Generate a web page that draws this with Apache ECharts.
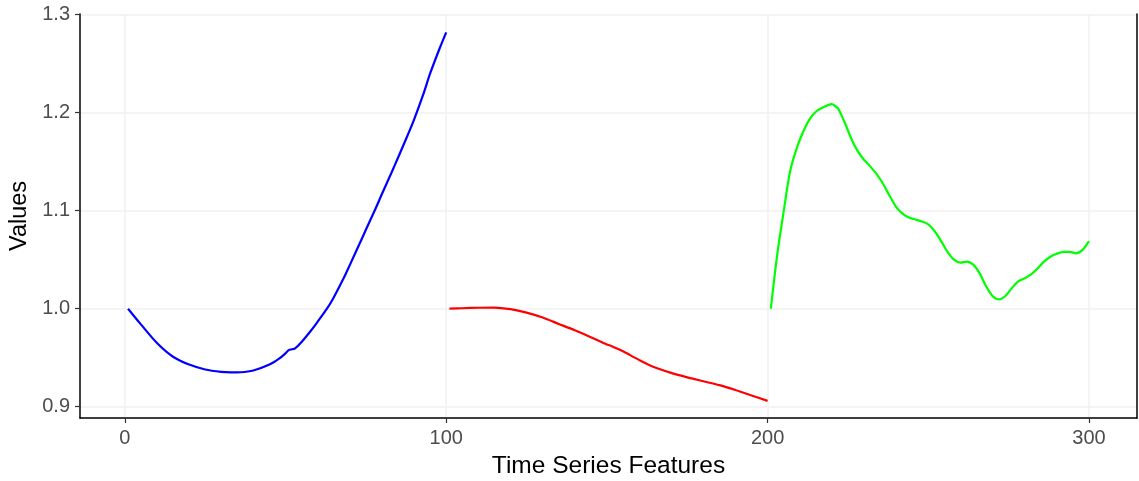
<!DOCTYPE html>
<html>
<head>
<meta charset="utf-8">
<script src="https://cdn.jsdelivr.net/npm/echarts@6/dist/echarts.min.js"></script>
<style>
html,body{margin:0;padding:0;background:#fff;}
#chart{width:1139px;height:481px;}
</style>
</head>
<body>
<div id="chart"></div>
<script>
// ---- data ----
const xTicks = [0, 100, 200, 300];
const yTicks = [0.9, 1.0, 1.1, 1.2, 1.3];

const blueX = [1, 5, 10, 15, 20, 25, 30, 33, 36, 40, 45, 48, 50, 51, 52, 53, 55, 58, 60, 63, 65, 68, 70, 73, 75, 78, 80, 83, 85, 88, 90, 93, 95, 98, 100];
const blueY = [1.000, 0.984, 0.965, 0.951, 0.943, 0.938, 0.9355, 0.935, 0.9352, 0.937, 0.943, 0.949, 0.9545, 0.9577, 0.9586, 0.9596, 0.966, 0.978, 0.9868, 1.0005, 1.0115, 1.0305, 1.0445, 1.066, 1.0805, 1.102, 1.117, 1.139, 1.154, 1.177, 1.193, 1.220, 1.240, 1.266, 1.282];

const redX = [101, 105, 110, 115, 120, 125, 130, 135, 140, 145, 150, 151, 152, 155, 160, 165, 170, 175, 180, 185, 190, 195, 200];
const redY = [1.000, 1.0005, 1.001, 1.0012, 0.9995, 0.996, 0.991, 0.9845, 0.978, 0.971, 0.9635, 0.9625, 0.961, 0.9565, 0.9478, 0.940, 0.9345, 0.930, 0.926, 0.922, 0.917, 0.9115, 0.906];

const greenX = [201, 203, 205, 207, 209, 211, 213, 215, 217, 219, 220, 221, 222, 224, 226, 228, 230, 232, 234, 236, 238, 240, 242, 244, 246, 248, 250, 252, 254, 256, 258, 260, 262, 264, 266, 268, 270, 272, 274, 276, 278, 280, 282, 284, 286, 288, 290, 292, 294, 296, 298, 300];
const greenY = [1.000, 1.055, 1.099, 1.140, 1.163, 1.180, 1.193, 1.201, 1.205, 1.208, 1.2088, 1.207, 1.204, 1.190, 1.174, 1.161, 1.152, 1.145, 1.137, 1.127, 1.115, 1.104, 1.097, 1.093, 1.091, 1.089, 1.086, 1.079, 1.069, 1.058, 1.050, 1.047, 1.048, 1.045, 1.036, 1.023, 1.013, 1.0095, 1.013, 1.021, 1.028, 1.031, 1.035, 1.041, 1.048, 1.053, 1.056, 1.058, 1.058, 1.0565, 1.060, 1.069];

const xName = 'Time Series Features';
const yName = 'Values';

function pairs(xs, ys) { return xs.map((x, i) => [x, ys[i]]); }

const chart = echarts.init(document.getElementById('chart'), null, {renderer: 'canvas'});
const FONT = 'Liberation Sans, Arial, sans-serif';
const gridColor = '#f0f0f0';

function lineSeries(xs, ys, color) {
  return {
    type: 'line',
    data: pairs(xs, ys),
    showSymbol: false,
    smooth: 0.3,
    lineStyle: {color: color, width: 2.2},
    itemStyle: {color: color},
    z: 5
  };
}

const option = {
  animation: false,
  backgroundColor: '#ffffff',
  grid: {left: 80, right: 2, top: 14, bottom: 63, containLabel: false, outerBoundsMode: 'none'},
  xAxis: {
    type: 'value',
    min: -13.95, max: 314.95,
    name: xName, nameLocation: 'middle', nameGap: 36,
    nameTextStyle: {color: '#000', fontSize: 24.5, fontFamily: FONT},
    axisLine: {show: true, onZero: false, lineStyle: {color: '#000', width: 1.5}},
    axisTick: {show: true, length: 5, customValues: xTicks, lineStyle: {color: '#333', width: 1.2}},
    axisLabel: {customValues: xTicks, color: '#4d4d4d', fontSize: 20, fontFamily: FONT, margin: 10},
    splitLine: {show: true, lineStyle: {color: gridColor, width: 1.5}}
  },
  yAxis: [{
    type: 'value',
    min: 0.8885, max: 1.3007,
    name: yName, nameLocation: 'middle', nameGap: 45,
    nameTextStyle: {color: '#000', fontSize: 23.5, fontFamily: FONT},
    axisLine: {show: true, onZero: false, lineStyle: {color: '#000', width: 1.5}},
    axisTick: {show: true, length: 5, customValues: yTicks, lineStyle: {color: '#333', width: 1.2}},
    axisLabel: {customValues: yTicks, color: '#4d4d4d', fontSize: 20, fontFamily: FONT, margin: 10,
      formatter: v => Number(v).toFixed(1)},
    splitLine: {show: true, lineStyle: {color: gridColor, width: 1.5}}
  }, {
    type: 'value',
    position: 'right',
    min: 0.8885, max: 1.3007,
    axisLine: {show: true, onZero: false, lineStyle: {color: '#000', width: 1.5}},
    axisTick: {show: false},
    axisLabel: {show: false},
    splitLine: {show: false}
  }],
  series: [
    lineSeries(blueX, blueY, '#0000ff'),
    lineSeries(redX, redY, '#ff0000'),
    lineSeries(greenX, greenY, '#00ff00')
  ]
};
chart.setOption(option);
</script>
</body>
</html>
